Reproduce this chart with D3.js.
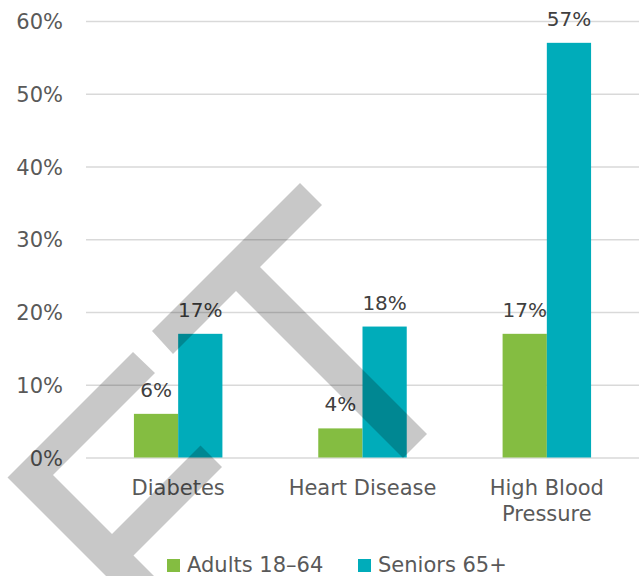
<!DOCTYPE html>
<html>
<head>
<meta charset="utf-8">
<script src="https://cdn.jsdelivr.net/npm/d3@7"></script>
<style>
  html, body { margin: 0; padding: 0; background: #ffffff; }
  svg { display: block; }
  text { font-family: "DejaVu Sans", sans-serif; }
</style>
</head>
<body>
<script>
// ---- data ----
const categories = ["Diabetes", "Heart Disease", "High Blood Pressure"];
const categoryLines = [["Diabetes"], ["Heart Disease"], ["High Blood", "Pressure"]];
const seriesNames = ["Adults 18–64", "Seniors 65+"];
const adults = [0.06, 0.04, 0.17];
const seniors = [0.17, 0.18, 0.57];
const yTicks = [0, 0.1, 0.2, 0.3, 0.4, 0.5, 0.6];

const colors = ["#84bd41", "#00acba"];

const W = 639, H = 576;
const svg = d3.select("body").append("svg").attr("width", W).attr("height", H);

const x0 = d3.scaleBand().domain(categories).range([86, 639])
  .paddingInner(0.52).paddingOuter(0.26);
const x1 = d3.scaleBand().domain(seriesNames).range([0, x0.bandwidth()]).padding(0);
const y = d3.scaleLinear().domain([0, 0.6]).range([457.5, 21]);

// gridlines
const yAxis = d3.axisLeft(y).tickValues(yTicks).tickSize(-(639 - 86))
  .tickFormat(d3.format(".0%")).tickPadding(23);
const gy = svg.append("g").attr("transform", "translate(86,0)").call(yAxis);
gy.select(".domain").remove();
gy.selectAll(".tick line").attr("stroke", "#d9d9d9").attr("stroke-width", 1.5);
gy.selectAll(".tick text").attr("fill", "#595959").style("font-size", "21px")
  .attr("dy", "0.36em");

// bars
const rows = categories.map((c, i) => ({ cat: c, vals: [adults[i], seniors[i]] }));
const groups = svg.append("g").selectAll("g").data(rows).join("g")
  .attr("transform", d => `translate(${x0(d.cat)},0)`);
groups.selectAll("rect").data(d => d.vals.map((v, k) => ({ v, k })))
  .join("rect")
  .attr("x", d => x1(seriesNames[d.k]))
  .attr("width", x1.bandwidth())
  .attr("y", d => y(d.v))
  .attr("height", d => y(0) - y(d.v))
  .attr("fill", d => colors[d.k]);
groups.selectAll("text.lbl").data(d => d.vals.map((v, k) => ({ v, k })))
  .join("text").attr("class", "lbl")
  .attr("x", d => x1(seriesNames[d.k]) + x1.bandwidth() / 2)
  .attr("y", d => y(d.v) - 17)
  .attr("text-anchor", "middle")
  .attr("fill", "#404040")
  .style("font-size", "20px")
  .text(d => d3.format(".0%")(d.v));

// category labels
const xAxis = d3.axisBottom(x0).tickSize(0).tickPadding(0).tickFormat("");
const gx = svg.append("g").attr("transform", `translate(0,${y(0)})`).call(xAxis);
gx.select(".domain").remove();
gx.selectAll(".tick").each(function(d, i) {
  const t = d3.select(this).append("text")
    .attr("text-anchor", "middle")
    .attr("fill", "#595959")
    .style("font-size", "21px");
  categoryLines[i].forEach((line, j) => {
    t.append("tspan").attr("x", 0).attr("y", 37.5 + j * 26).text(line);
  });
});

// legend
const legendX = [167, 358];
const lg = svg.append("g").selectAll("g").data(seriesNames).join("g")
  .attr("transform", (d, i) => `translate(${legendX[i]},559)`);
lg.append("rect").attr("width", 13).attr("height", 13).attr("fill", (d, i) => colors[i]);
lg.append("text").attr("x", 20).attr("y", 12.5).attr("fill", "#595959")
  .style("font-size", "21px").text(d => d);

// watermark overlay (decorative)
const watermark = [
  [[300,183],[152,331],[173,354],[236,291],[403,458],[427,434],[260,267],[322,205]],
  [[133,352],[7.5,477.5],[130,600],[178,600],[133.5,555.5],[222,467],[200.5,445.5],[112,534],[53,475],[155,373]]
];
svg.append("g").selectAll("path").data(watermark).join("path")
  .attr("d", d => d3.line()(d) + "Z")
  .attr("fill", "#000000").attr("fill-opacity", 0.215);
</script>
</body>
</html>
